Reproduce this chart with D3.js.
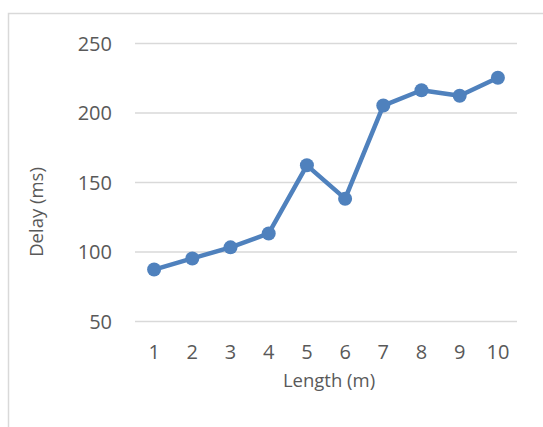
<!DOCTYPE html>
<html>
<head>
<meta charset="utf-8">
<script src="https://cdn.jsdelivr.net/npm/d3@7"></script>
<style>
  html, body { margin: 0; padding: 0; background: #fff; }
  svg { display: block; }
  text { font-family: "Open Sans", "Noto Sans", sans-serif; fill: #595959; }
</style>
</head>
<body>
<svg id="chart" width="543" height="427"></svg>
<script>
const categories = ["1", "2", "3", "4", "5", "6", "7", "8", "9", "10"];
const delays = [87, 95, 103, 113, 162, 138, 205, 216, 212, 225];
const yTicks = [50, 100, 150, 200, 250];
const xTitle = "Length (m)";
const yTitle = "Delay (ms)";

const svg = d3.select("#chart");
const W = 543, H = 427;

// outer chart frame (clipped at right/bottom like the reference)
svg.append("rect")
  .attr("x", 8.5).attr("y", 13.5)
  .attr("width", 600).attr("height", 500)
  .attr("fill", "#fff")
  .attr("stroke", "#d9d9d9")
  .attr("stroke-width", 1.5);

const plot = { left: 135, right: 517, top: 43, bottom: 321 };

const x = d3.scaleBand().domain(categories).range([plot.left, plot.right]).padding(0);
const y = d3.scaleLinear().domain([50, 250]).range([plot.bottom, plot.top]);

// gridlines + y labels
const yAxis = d3.axisLeft(y).tickValues(yTicks)
  .tickSize(-(plot.right - plot.left)).tickPadding(23);
const gy = svg.append("g").attr("transform", `translate(${plot.left},0)`).call(yAxis);
gy.select(".domain").remove();
gy.selectAll(".tick line").attr("stroke", "#d9d9d9").attr("stroke-width", 1.5);
gy.selectAll(".tick text")
  .attr("font-size", 20)
  .attr("font-family", "'Open Sans', sans-serif")
  .attr("fill", "#595959")
  .attr("dy", "0.35em");

// x labels
const xAxis = d3.axisBottom(x).tickSize(0).tickPadding(0);
const gx = svg.append("g").attr("transform", `translate(0,${plot.bottom})`).call(xAxis);
gx.select(".domain").remove();
gx.selectAll(".tick text")
  .attr("font-size", 20)
  .attr("font-family", "'Open Sans', sans-serif")
  .attr("fill", "#595959")
  .attr("dy", null)
  .attr("y", 38);

// axis titles
svg.append("text")
  .attr("x", (plot.left + plot.right) / 2 + 3)
  .attr("y", 387)
  .attr("text-anchor", "middle")
  .attr("font-size", 18.5)
  .text(xTitle);

svg.append("text")
  .attr("transform", `translate(43,212) rotate(-90)`)
  .attr("text-anchor", "middle")
  .attr("font-size", 18.5)
  .text(yTitle);

// line + markers
const color = "#4f81bd";
const line = d3.line()
  .x((d, i) => x(categories[i]) + x.bandwidth() / 2)
  .y(d => y(d));

svg.append("path")
  .datum(delays)
  .attr("d", line)
  .attr("fill", "none")
  .attr("stroke", color)
  .attr("stroke-width", 4.5)
  .attr("stroke-linejoin", "round")
  .attr("stroke-linecap", "round");

svg.selectAll("circle.pt")
  .data(delays)
  .join("circle")
  .attr("class", "pt")
  .attr("cx", (d, i) => x(categories[i]) + x.bandwidth() / 2)
  .attr("cy", d => y(d))
  .attr("r", 7)
  .attr("fill", color);
</script>
</body>
</html>
